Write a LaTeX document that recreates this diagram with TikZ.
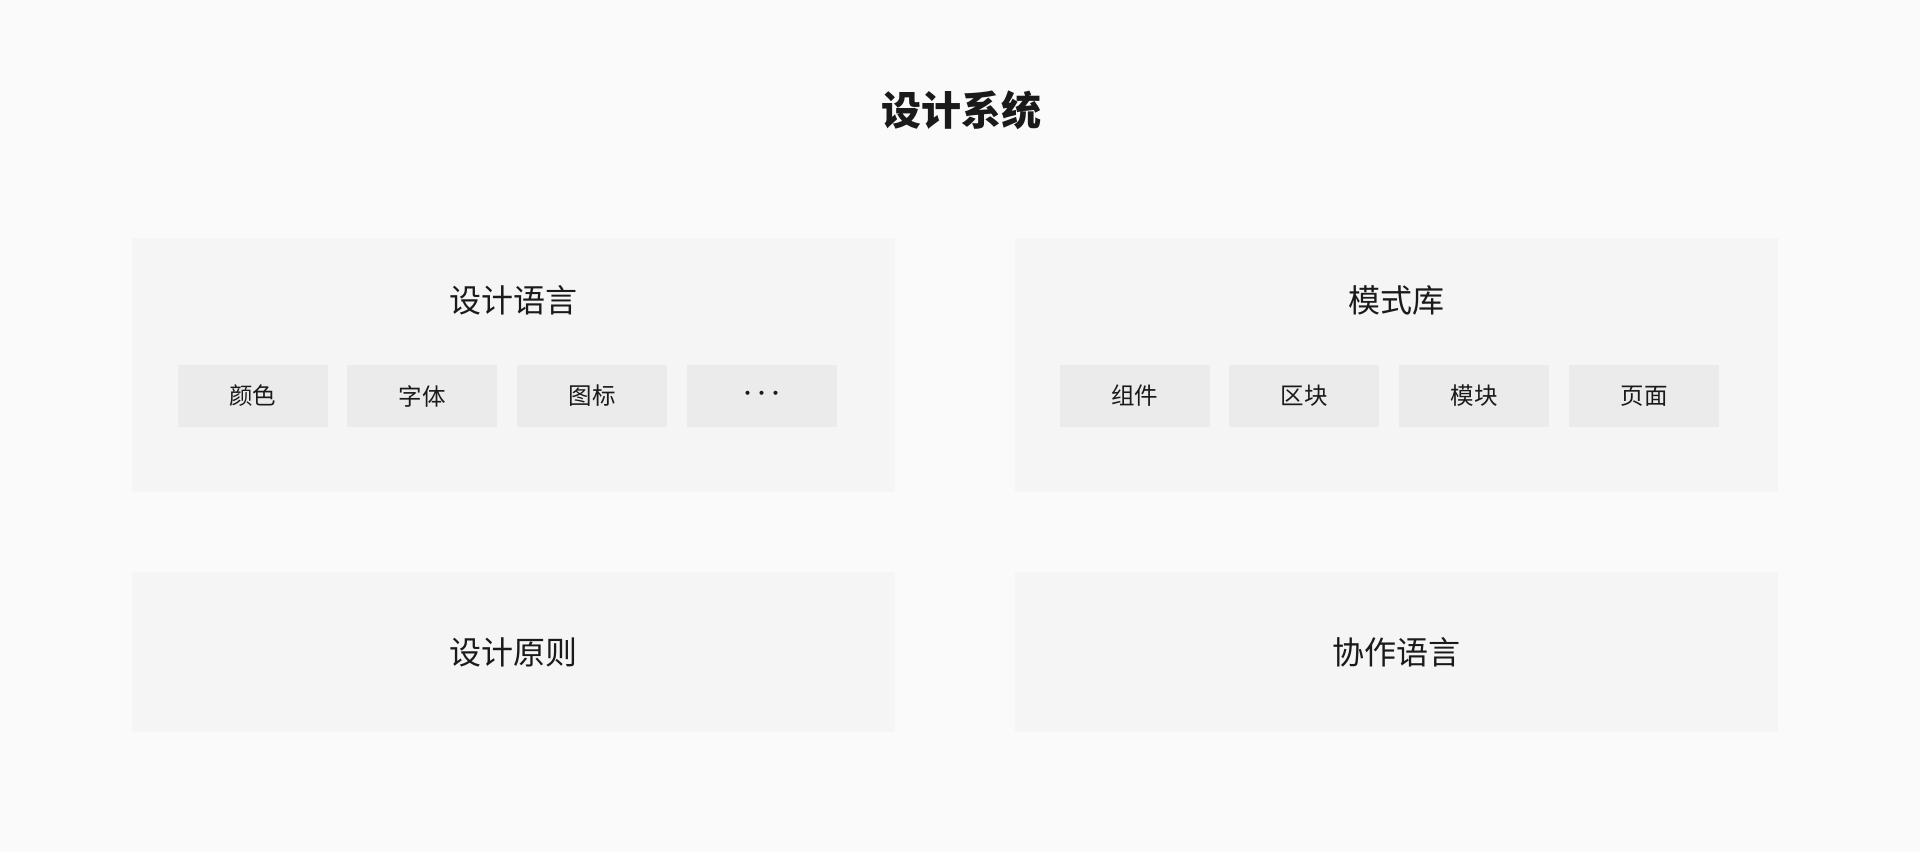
\documentclass[tikz,border=0pt]{standalone}
\usepackage{fontspec}
\setmainfont{Noto Sans CJK SC}
\usetikzlibrary{positioning}
\definecolor{bgcol}{HTML}{FAFAFA}
\definecolor{panelcol}{HTML}{F5F5F5}
\definecolor{itemcol}{HTML}{EBEBEB}
\definecolor{textcol}{HTML}{1A1A1A}

\begin{document}
\begin{tikzpicture}[x=1pt,y=-1pt,
    panel/.style={fill=panelcol,inner sep=0pt,minimum width=763pt},
    heading/.style={text=textcol,font=\fontsize{32}{32}\selectfont},
    item/.style={fill=itemcol,inner sep=0pt,minimum width=150pt,minimum height=62pt,
                 text=textcol,font=\fontsize{23.5}{23.5}\selectfont},
    node distance=19.5pt]
                \fill[bgcol] (0,0) rectangle (1920,852);
                \node[text=textcol,font=\fontsize{40}{40}\selectfont\bfseries] (title) at (961,110) {设计系统};

                \node[panel,minimum height=254pt] (lang) at (513.5,364.5) {};
                \node[panel,minimum height=254pt] (lib) at (1396,364.5) {};
                \node[panel,minimum height=160pt] (rule) at (513.5,652) {};
                \node[panel,minimum height=160pt] (team) at (1396,652) {};

                \node[heading] (lang-title) at (513.5,300) {设计语言};
                \node[heading] (lib-title) at (1396,300) {模式库};
                \node[heading] at (rule) {设计原则};
                \node[heading] at (team) {协作语言};

                \node[item] (color) at (252.5,396) {颜色};
                \node[item,right=of color] (font) {字体};
                \node[item,right=of font] (icon) {图标};
                \node[item,right=of icon] (more) {\fontsize{19}{19}\selectfont\raisebox{-4.5pt}{\makebox[14pt]{·}\makebox[14pt]{·}\makebox[14pt]{·}}};

                \node[item] (comp) at (1134.5,396) {组件};
                \node[item,right=of comp] (block) {区块};
                \node[item,right=of block] (module) {模块};
                \node[item,right=of module] (page) {页面};

            \end{tikzpicture}
\end{document}
